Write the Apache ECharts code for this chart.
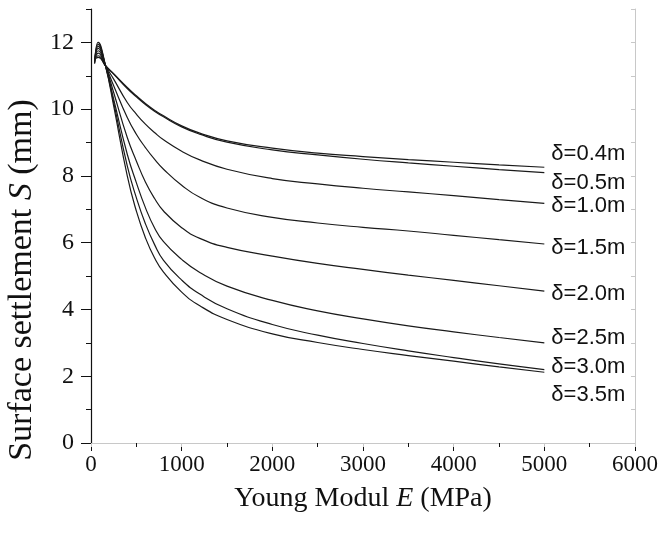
<!DOCTYPE html>
<html><head><meta charset="utf-8">
<script src="https://cdn.jsdelivr.net/npm/echarts@6/dist/echarts.min.js"></script>
<style>html,body{margin:0;padding:0;background:#fff}#c{width:662px;height:535px}</style>
</head><body><div id="c"></div>
<script>
// Young modulus E (MPa) sample points
const youngModulus = [40, 80, 160, 250, 400, 500, 600, 700, 800, 1000, 1200, 1500, 2000, 2500, 3000, 3500, 4000, 4500, 5000];
const seriesNames = ['δ=0.4m', 'δ=0.5m', 'δ=1.0m', 'δ=1.5m', 'δ=2.0m', 'δ=2.5m', 'δ=3.0m', 'δ=3.5m'];
// Surface settlement S (mm)
const s04 = [11.50, 11.55, 11.30, 11.06, 10.65, 10.40, 10.17, 9.97, 9.80, 9.50, 9.28, 9.05, 8.83, 8.68, 8.58, 8.49, 8.41, 8.33, 8.26];
const s05 = [11.48, 11.60, 11.30, 11.05, 10.62, 10.37, 10.14, 9.94, 9.77, 9.47, 9.25, 9.01, 8.78, 8.63, 8.50, 8.39, 8.29, 8.19, 8.10];
const s10 = [11.46, 11.68, 11.30, 10.90, 10.20, 9.85, 9.55, 9.30, 9.08, 8.74, 8.48, 8.20, 7.92, 7.76, 7.63, 7.52, 7.41, 7.29, 7.18];
const s15 = [11.44, 11.75, 11.30, 10.70, 9.75, 9.25, 8.85, 8.50, 8.20, 7.72, 7.36, 7.04, 6.76, 6.59, 6.46, 6.35, 6.22, 6.09, 5.96];
const s20 = [11.42, 11.82, 11.30, 10.50, 9.15, 8.45, 7.82, 7.33, 6.95, 6.45, 6.13, 5.86, 5.60, 5.38, 5.20, 5.03, 4.87, 4.71, 4.55];
const s25 = [11.40, 11.88, 11.30, 10.30, 8.65, 7.80, 7.05, 6.45, 6.03, 5.50, 5.11, 4.70, 4.27, 3.96, 3.72, 3.51, 3.33, 3.16, 3.00];
const s30 = [11.38, 11.94, 11.30, 10.20, 8.30, 7.35, 6.57, 5.95, 5.47, 4.88, 4.46, 4.02, 3.55, 3.23, 2.98, 2.76, 2.56, 2.37, 2.20];
const s35 = [11.36, 12.00, 11.30, 10.10, 8.00, 6.95, 6.15, 5.55, 5.12, 4.52, 4.11, 3.70, 3.27, 3.01, 2.80, 2.62, 2.45, 2.28, 2.12];
const allSeries = [s04, s05, s10, s15, s20, s25, s30, s35];

const labelOffsets = [[0, -13], [0, 10], [0, 3], [0, 4], [0, 3], [0, -5], [0, -3], [0, 23]];

const serif = 'Liberation Serif, Times New Roman, serif';
const chart = echarts.init(document.getElementById('c'), null, {renderer: 'canvas'});

const series = allSeries.map((vals, i) => ({
  name: seriesNames[i],
  type: 'line',
  xAxisIndex: 0,
  yAxisIndex: 0,
  data: youngModulus.map((e, k) => [e, vals[k]]),
  showSymbol: false,
  symbol: 'none',
  smooth: 0.5,
  lineStyle: {color: '#1a1a1a', width: 1.2},
  endLabel: {
    show: true,
    formatter: seriesNames[i],
    fontFamily: 'Liberation Sans, Arial, sans-serif',
    fontSize: 22,
    color: '#111',
    distance: 7,
    offset: labelOffsets[i]
  },
  emphasis: {disabled: true}
}));

chart.setOption({
  animation: false,
  backgroundColor: '#fff',
  grid: {left: 91, right: 27, top: 9, bottom: 92, containLabel: false, outerBoundsMode: 'none'},
  xAxis: [{
    type: 'value', min: 0, max: 6000, interval: 1000, position: 'bottom',
    name: 'Young Modul {i|E} (MPa)', nameLocation: 'middle', nameGap: 42,
    nameTextStyle: {fontFamily: serif, fontSize: 28, color: '#111',
      rich: {i: {fontFamily: serif, fontSize: 28, fontStyle: 'italic', color: '#111'}}},
    axisLine: {show: true, lineStyle: {color: '#111', width: 1.2}},
    axisTick: {show: true, inside: false, length: 8, lineStyle: {color: '#111'}},
    minorTick: {show: true, splitNumber: 2, length: 4, lineStyle: {color: '#111'}},
    splitLine: {show: false},
    axisLabel: {fontFamily: serif, fontSize: 23, color: '#111', margin: 10,
      formatter: v => String(v)}
  }, {
    type: 'value', min: 0, max: 6000, interval: 1000, position: 'top',
    axisLine: {show: true, lineStyle: {color: '#c8c8c8', width: 1}},
    axisTick: {show: true, inside: true, length: 4, lineStyle: {color: '#c8c8c8'}},
    axisLabel: {show: false}, splitLine: {show: false}
  }],
  yAxis: [{
    type: 'value', min: 0, max: 13, interval: 2, position: 'left',
    name: 'Surface settlement {i|S} (mm)', nameLocation: 'middle', nameGap: 46,
    nameTextStyle: {fontFamily: serif, fontSize: 34, color: '#111', padding: [0, 108, 0, 0],
      rich: {i: {fontFamily: serif, fontSize: 34, fontStyle: 'italic', color: '#111'}}},
    axisLine: {show: true, lineStyle: {color: '#111', width: 1.2}},
    axisTick: {show: true, inside: false, length: 10, lineStyle: {color: '#111'}},
    splitLine: {show: false},
    axisLabel: {fontFamily: serif, fontSize: 24, color: '#111', margin: 17, showMaxLabel: false,
      formatter: v => String(v)}
  }, {
    type: 'value', min: 0, max: 13, interval: 1, position: 'left',
    axisLine: {show: false},
    axisTick: {show: true, inside: false, length: 5, lineStyle: {color: '#111'}},
    axisLabel: {show: false}, splitLine: {show: false}
  }, {
    type: 'value', min: 0, max: 13, interval: 1, position: 'right',
    axisLine: {show: true, lineStyle: {color: '#c8c8c8', width: 1}},
    axisTick: {show: true, inside: true, length: 4, lineStyle: {color: '#c8c8c8'}},
    axisLabel: {show: false}, splitLine: {show: false}
  }],
  series: series
});
</script>
</body></html>
